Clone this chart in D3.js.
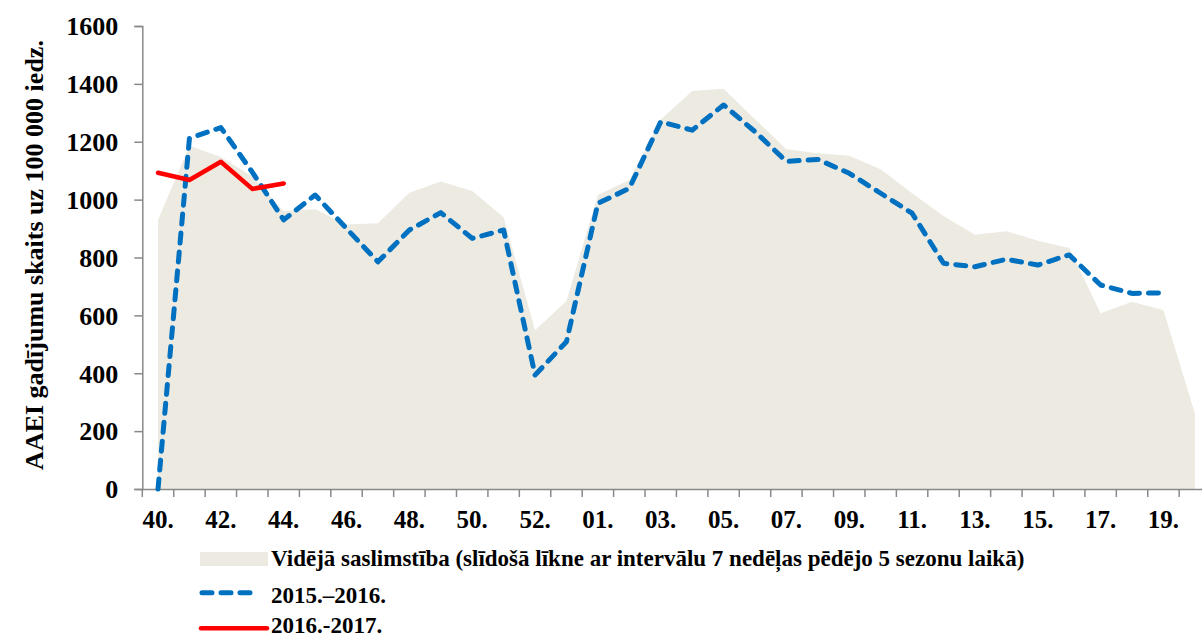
<html>
<head>
<meta charset="utf-8">
<script src="https://d3js.org/d3.v7.min.js"></script>
<style>
body { margin:0; background:#fff; }
text { font-family: "Liberation Serif", "Times New Roman", serif; font-weight: bold; fill:#000; }
</style>
</head>
<body>
<script>
// weeks of the season (2015 had a week 53)
var weeks = ["40","41","42","43","44","45","46","47","48","49","50","51","52","53",
  "01","02","03","04","05","06","07","08","09","10","11","12","13","14","15","16","17","18","19","20"];
var avgValues = [930,1186,1147,1080,960,967,914,918,1024,1063,1030,939,549,650,
  1016,1068,1277,1375,1383,1278,1174,1160,1152,1105,1022,943,879,891,858,833,607,647,618,261];
var season1516 = [0,1212,1249,1095,930,1016,900,785,895,955,866,895,394,509,
  987,1039,1269,1240,1327,1235,1132,1139,1091,1022,953,780,768,794,774,809,705,676,678];
var season1617 = [1093,1068,1131,1037,1056];
var yTicks = [0,200,400,600,800,1000,1200,1400,1600];
var legendLabels = ["Vidējā saslimstība (slīdošā līkne ar intervālu 7 nedēļas pēdējo 5 sezonu laikā)",
  "2015.–2016.", "2016.-2017."];

var width = 1202, height = 637;
var x0 = 142.3, band = 31.42;

var svg = d3.select("body").append("svg")
    .attr("width", width)
    .attr("height", height);

var x = d3.scaleBand()
    .domain(weeks)
    .range([x0, x0 + band * weeks.length])
    .padding(0);
var y = d3.scaleLinear()
    .domain([0, 1600])
    .range([489, 26]);
var cx = function(i){ return x(weeks[i]) + x.bandwidth() / 2; };

// average area
var area = d3.area()
    .x(function(d, i){ return cx(i); })
    .y0(y(0))
    .y1(function(d){ return y(d); });
svg.append("path")
    .datum(avgValues)
    .attr("d", area)
    .attr("fill", "#ECEAE1");

// axes
var axisColor = "#898989";
var yAxis = svg.append("g")
    .attr("transform", "translate(" + x0 + ",0)")
    .call(d3.axisLeft(y).tickValues(yTicks).tickSize(8).tickPadding(16).tickFormat(d3.format("d")));
yAxis.selectAll("text").style("font-size", "26px").attr("dy", "0.34em");

var xAxis = svg.append("g")
    .attr("transform", "translate(0," + y(0) + ")")
    .call(d3.axisBottom(x).tickSize(0).tickPadding(21)
      .tickFormat(function(d, i){ return i % 2 === 0 ? d + "." : ""; }));
xAxis.selectAll("text").style("font-size", "25px");
// tick marks at category boundaries
svg.append("g").selectAll("line")
    .data(d3.range(weeks.length + 1))
    .enter().append("line")
    .attr("x1", function(i){ return x0 + i * band; })
    .attr("x2", function(i){ return x0 + i * band; })
    .attr("y1", y(0))
    .attr("y2", y(0) + 8)
    .attr("stroke", axisColor)
    .attr("stroke-width", 1.5);

svg.selectAll(".domain").attr("stroke", axisColor).attr("stroke-width", 1.5);
svg.selectAll(".tick line").attr("stroke", axisColor).attr("stroke-width", 1.5);

// lines
var line = d3.line()
    .x(function(d, i){ return cx(i); })
    .y(function(d){ return y(d); });
svg.append("path")
    .datum(season1516)
    .attr("d", line)
    .attr("fill", "none")
    .attr("stroke", "#0070C0")
    .attr("stroke-width", 5)
    .attr("stroke-dasharray", "10,9")
    .attr("stroke-linecap", "round")
    .attr("stroke-linejoin", "round");
svg.append("path")
    .datum(season1617)
    .attr("d", line)
    .attr("fill", "none")
    .attr("stroke", "#FF0000")
    .attr("stroke-width", 4.5)
    .attr("stroke-linejoin", "round")
    .attr("stroke-linecap", "round");

// y title
svg.append("text")
    .attr("transform", "translate(43,255) rotate(-90)")
    .attr("text-anchor", "middle")
    .style("font-size", "26px")
    .text("AAEI gadījumu skaits uz 100 000 iedz.");

// legend
var legend = svg.append("g");
legend.append("rect")
    .attr("x", 200).attr("y", 552)
    .attr("width", 68).attr("height", 14)
    .attr("fill", "#ECEAE1");
legend.append("line")
    .attr("x1", 202).attr("x2", 258).attr("y1", 592.7).attr("y2", 592.7)
    .attr("stroke", "#0070C0").attr("stroke-width", 5)
    .attr("stroke-dasharray", "10,9").attr("stroke-linecap", "round");
legend.append("line")
    .attr("x1", 201).attr("x2", 267).attr("y1", 628.3).attr("y2", 628.3)
    .attr("stroke", "#FF0000").attr("stroke-width", 4.5).attr("stroke-linecap", "round");
legend.selectAll("text.lg")
    .data(legendLabels)
    .enter().append("text")
    .attr("class", "lg")
    .attr("x", 271)
    .attr("y", function(d, i){ return [566, 603, 633][i]; })
    .style("font-size", "23px")
    .text(function(d){ return d; });
</script>
</body>
</html>
